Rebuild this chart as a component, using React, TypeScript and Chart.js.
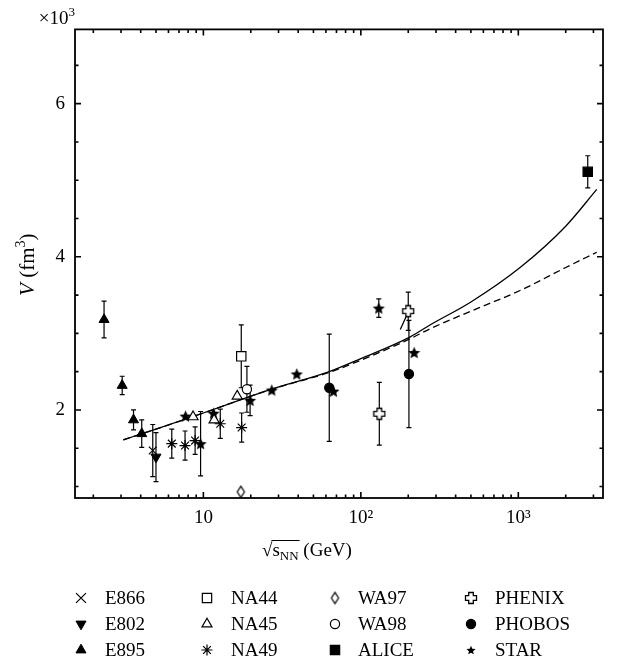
import React, { useEffect, useRef } from 'react';
import { Chart, registerables } from 'chart.js';
import { drawPoint } from 'chart.js/helpers';

Chart.register(...registerables);

// ---------------- data ----------------
const e866X = [4.77];
const e866Y = [1.47];
const e866Err = [0.34];

const e802X = [5.0];
const e802Y = [1.385];
const e802Err = [0.32];

const e895X = [2.34, 3.05, 3.6, 4.06];
const e895Y = [3.18, 2.32, 1.87, 1.69];
const e895Err = [0.24, 0.12, 0.13, 0.18];

const na44X = [17.4];
const na44Y = [2.7];
const na44Err = [0.41];

const na45X = [8.6, 11.7, 16.4];
const na45Y = [1.91, 1.87, 2.18];
const na45Err = [0, 0, 0];

const na49X = [6.3, 7.65, 8.86, 12.8, 17.5];
const na49Y = [1.56, 1.535, 1.6, 1.82, 1.77];
const na49Err = [0.19, 0.19, 0.18, 0.19, 0.19];

const wa97X = [17.3];
const wa97Y = [0.93];
const wa97Err = [0];

const wa98X = [18.9];
const wa98Y = [2.27];
const wa98Err = [0.3];

const aliceX = [2760];
const aliceY = [5.11];
const aliceErr = [0.21];

const phenixX = [131, 200];
const phenixY = [1.95, 3.29];
const phenixErr = [0.41, 0.25];

const phobosX = [63, 202];
const phobosY = [2.29, 2.47];
const phobosErr = [0.7, 0.7];

const starX = [7.7, 9.6, 11.6, 19.8, 27.2, 39.2, 67, 130, 218];
const starY = [1.92, 1.56, 1.957, 2.125, 2.26, 2.47, 2.245, 3.33, 2.75];
const starErr = [0, 0.42, 0, 0.2, 0, 0, 0, 0.12, 0];

const solidX = [3.1, 5, 10, 20, 27, 63, 100, 206, 275, 500, 1026, 2000, 3150];
const solidY = [1.61, 1.75, 1.96, 2.18, 2.27, 2.5, 2.67, 2.955, 3.11, 3.41, 3.86, 4.4, 4.88];

const dashedX = [3.1, 5, 10, 20, 27, 63, 100, 206, 275, 500, 1026, 2000, 3150];
const dashedY = [1.61, 1.75, 1.96, 2.18, 2.27, 2.49, 2.65, 2.93, 3.06, 3.29, 3.56, 3.86, 4.06];

const shortFitX = [178, 198];
const shortFitY = [3.05, 3.26];

const xMajorTicks = [10, 100, 1000];
const xTickLabels = ['10', '10\u00B2', '10\u00B3'];
const xMinorTicks = [2, 3, 4, 5, 6, 7, 8, 9, 20, 30, 40, 50, 60, 70, 80, 90, 200, 300, 400, 500, 600, 700, 800, 900, 2000, 3000];
const yMajorTicks = [2, 4, 6];
const yTickLabels = ['2', '4', '6'];
const yMinorTicks = [1, 1.5, 2.5, 3, 3.5, 4.5, 5, 5.5, 6.5];

const legendColumns = [
  ['E866', 'E802', 'E895'],
  ['NA44', 'NA45', 'NA49'],
  ['WA97', 'WA98', 'ALICE'],
  ['PHENIX', 'PHOBOS', 'STAR'],
];

const X_MIN = 1.53;
const X_MAX = 3450;
const Y_MIN = 0.85;
const Y_MAX = 6.97;

const FONT = '"Liberation Serif", "Times New Roman", serif';

// ---------------- marker images ----------------
function makeCanvas(w: number, h: number, draw: (g: CanvasRenderingContext2D) => void) {
  const c = document.createElement('canvas');
  c.width = w;
  c.height = h;
  const g = c.getContext('2d') as CanvasRenderingContext2D;
  draw(g);
  return c;
}

function starImage(R: number) {
  const s = Math.ceil(R * 2 + 2);
  return makeCanvas(s, s, (g) => {
    g.fillStyle = '#000';
    g.beginPath();
    for (let i = 0; i < 10; i++) {
      const r = i % 2 === 0 ? R : R * 0.45;
      const a = -Math.PI / 2 + (i * Math.PI) / 5;
      const px = s / 2 + r * Math.cos(a);
      const py = s / 2 + R * 0.1 + r * Math.sin(a);
      if (i === 0) g.moveTo(px, py);
      else g.lineTo(px, py);
    }
    g.closePath();
    g.fill();
  });
}

function openCrossImage(h: number, a: number) {
  const s = Math.ceil(h * 2 + 3);
  return makeCanvas(s, s, (g) => {
    const c = s / 2;
    const pts = [
      [c - a, c - h], [c + a, c - h], [c + a, c - a], [c + h, c - a], [c + h, c + a], [c + a, c + a],
      [c + a, c + h], [c - a, c + h], [c - a, c + a], [c - h, c + a], [c - h, c - a], [c - a, c - a],
    ];
    g.beginPath();
    pts.forEach((p, i) => (i ? g.lineTo(p[0], p[1]) : g.moveTo(p[0], p[1])));
    g.closePath();
    g.fillStyle = '#fff';
    g.fill();
    g.strokeStyle = '#000';
    g.lineWidth = 1.3;
    g.stroke();
  });
}

function diamondImage(hw: number, hh: number) {
  const w = Math.ceil(hw * 2 + 3);
  const h = Math.ceil(hh * 2 + 3);
  return makeCanvas(w, h, (g) => {
    const cx = w / 2;
    const cy = h / 2;
    g.beginPath();
    g.moveTo(cx, cy - hh);
    g.lineTo(cx + hw, cy);
    g.lineTo(cx, cy + hh);
    g.lineTo(cx - hw, cy);
    g.closePath();
    g.fillStyle = '#fff';
    g.fill();
    g.strokeStyle = '#000';
    g.lineWidth = 1.2;
    g.stroke();
  });
}

// ---------------- plugins ----------------
const errorBarPlugin = {
  id: 'errorBars',
  beforeDatasetsDraw(chart: any) {
    const { ctx } = chart;
    const xs = chart.scales.x;
    const ys = chart.scales.y;
    ctx.save();
    ctx.strokeStyle = '#000';
    ctx.lineWidth = 1.2;
    chart.data.datasets.forEach((ds: any) => {
      if (!ds.errors) return;
      ds.data.forEach((p: any, i: number) => {
        const e = ds.errors[i];
        if (!e) return;
        const px = xs.getPixelForValue(p.x);
        const y1 = ys.getPixelForValue(p.y - e);
        const y2 = ys.getPixelForValue(p.y + e);
        ctx.beginPath();
        ctx.moveTo(px, y1);
        ctx.lineTo(px, y2);
        ctx.moveTo(px - 2.5, y1);
        ctx.lineTo(px + 2.5, y1);
        ctx.moveTo(px - 2.5, y2);
        ctx.lineTo(px + 2.5, y2);
        ctx.stroke();
      });
    });
    ctx.restore();
  },
};

const framePlugin = {
  id: 'frame',
  afterDraw(chart: any) {
    const { ctx, chartArea: a } = chart;
    const xs = chart.scales.x;
    const ys = chart.scales.y;
    ctx.save();
    ctx.strokeStyle = '#000';
    ctx.lineWidth = 1.6;
    ctx.beginPath();
    xMajorTicks.forEach((v) => {
      const p = xs.getPixelForValue(v);
      ctx.moveTo(p, a.bottom);
      ctx.lineTo(p, a.bottom - 6);
      ctx.moveTo(p, a.top);
      ctx.lineTo(p, a.top + 6);
    });
    xMinorTicks.forEach((v) => {
      const p = xs.getPixelForValue(v);
      if (p <= a.left || p >= a.right) return;
      ctx.moveTo(p, a.bottom);
      ctx.lineTo(p, a.bottom - 3.5);
      ctx.moveTo(p, a.top);
      ctx.lineTo(p, a.top + 3.5);
    });
    yMajorTicks.forEach((v) => {
      const p = ys.getPixelForValue(v);
      ctx.moveTo(a.left, p);
      ctx.lineTo(a.left + 6, p);
      ctx.moveTo(a.right, p);
      ctx.lineTo(a.right - 6, p);
    });
    yMinorTicks.forEach((v) => {
      const p = ys.getPixelForValue(v);
      ctx.moveTo(a.left, p);
      ctx.lineTo(a.left + 3.5, p);
      ctx.moveTo(a.right, p);
      ctx.lineTo(a.right - 3.5, p);
    });
    ctx.stroke();
    ctx.lineWidth = 1.8;
    ctx.strokeRect(a.left, a.top, a.right - a.left, a.bottom - a.top);
    ctx.restore();
  },
};

const textPlugin = {
  id: 'texts',
  afterDraw(chart: any) {
    const { ctx, chartArea: a } = chart;
    ctx.save();
    ctx.fillStyle = '#000';
    ctx.strokeStyle = '#000';
    ctx.textBaseline = 'alphabetic';

    // x10^3 multiplier
    ctx.textAlign = 'left';
    ctx.font = `13px ${FONT}`;
    const supW = ctx.measureText('3').width;
    ctx.font = `19px ${FONT}`;
    const mainW = ctx.measureText('\u00D710').width;
    const mx = a.left - mainW - supW;
    ctx.fillText('\u00D710', mx, a.top - 5);
    ctx.font = `13px ${FONT}`;
    ctx.fillText('3', mx + mainW, a.top - 13);

    // y title: V (fm^3)
    ctx.save();
    ctx.translate(19, (a.top + a.bottom) / 2 + 1);
    ctx.rotate(-Math.PI / 2);
    ctx.font = `italic 21px ${FONT}`;
    const wV = ctx.measureText('V').width;
    ctx.font = `21px ${FONT}`;
    const wA = ctx.measureText(' (fm').width;
    const wC = ctx.measureText(')').width;
    ctx.font = `14px ${FONT}`;
    const w3 = ctx.measureText('3').width;
    let cx = -(wV + wA + w3 + wC) / 2;
    const bl = 7;
    ctx.font = `italic 21px ${FONT}`;
    ctx.fillText('V', cx, bl);
    cx += wV;
    ctx.font = `21px ${FONT}`;
    ctx.fillText(' (fm', cx, bl);
    cx += wA;
    ctx.font = `14px ${FONT}`;
    ctx.fillText('3', cx, bl - 9);
    cx += w3;
    ctx.font = `21px ${FONT}`;
    ctx.fillText(')', cx, bl);
    ctx.restore();

    // x title: sqrt(s_NN) (GeV)
    const tx = 254;
    const tb = a.bottom + 58;
    ctx.font = `19px ${FONT}`;
    const wr = ctx.measureText('\u221A').width;
    ctx.fillText('\u221A', tx, tb);
    let sx = tx + wr;
    ctx.fillText('s', sx, tb);
    sx += ctx.measureText('s').width;
    ctx.font = `13px ${FONT}`;
    ctx.fillText('NN', sx, tb + 4);
    sx += ctx.measureText('NN').width;
    ctx.lineWidth = 1;
    ctx.beginPath();
    ctx.moveTo(tx + wr - 1, tb - 15.5);
    ctx.lineTo(sx + 1, tb - 15.5);
    ctx.stroke();
    ctx.font = `19px ${FONT}`;
    ctx.fillText(' (GeV)', sx, tb);

    // legend grid
    const colMarker = [73, 199, 327, 463];
    const colText = [97, 223, 350, 487];
    const rows = [590, 616, 642];
    ctx.textBaseline = 'middle';
    ctx.font = `19px ${FONT}`;
    legendColumns.forEach((col, ci) => {
      col.forEach((name, ri) => {
        const ds: any = chart.data.datasets.find((d: any) => d.label === name);
        if (!ds) return;
        const y = rows[ri];
        ctx.save();
        ctx.fillStyle = ds.pointBackgroundColor;
        ctx.strokeStyle = ds.pointBorderColor;
        ctx.lineWidth = ds.pointBorderWidth;
        drawPoint(ctx, {
          pointStyle: ds.legendStyle || ds.pointStyle,
          radius: ds.legendRadius || ds.pointRadius,
          rotation: ds.pointRotation || 0,
          borderWidth: ds.pointBorderWidth,
        } as any, colMarker[ci], y);
        ctx.restore();
        ctx.fillStyle = '#000';
        ctx.fillText(name, colText[ci], y + 1);
      });
    });
    ctx.restore();
  },
};

function pts(xs: number[], ys: number[]) {
  return xs.map((x, i) => ({ x, y: ys[i] }));
}

export default function App() {
  const ref = useRef<HTMLCanvasElement | null>(null);

  useEffect(() => {
    if (!ref.current) return;
    const starImg = starImage(6.4);
    const starLegend = starImage(4.8);
    const crossImg = openCrossImage(5.5, 2.3);
    const diamondImg = diamondImage(3.6, 5.6);

    const marker = (label: string, xs: number[], ys: number[], errs: number[], style: any) => ({
      label,
      data: pts(xs, ys),
      errors: errs,
      showLine: false,
      pointBorderColor: '#000',
      pointBackgroundColor: '#000',
      pointBorderWidth: 1.2,
      order: 1,
      ...style,
    });

    const datasets: any[] = [
      {
        label: 'model-solid', data: pts(solidX, solidY), showLine: true, pointRadius: 0,
        borderColor: '#000', borderWidth: 1.3, cubicInterpolationMode: 'monotone', order: 10,
      },
      {
        label: 'model-dashed', data: pts(dashedX, dashedY), showLine: true, pointRadius: 0,
        borderColor: '#000', borderWidth: 1.3, borderDash: [7, 4], cubicInterpolationMode: 'monotone', order: 10,
      },
      {
        label: 'fit-short', data: pts(shortFitX, shortFitY), showLine: true, pointRadius: 0,
        borderColor: '#000', borderWidth: 1.3, order: 10,
      },
      marker('E866', e866X, e866Y, e866Err, { pointStyle: 'crossRot', pointRadius: 5.5, legendRadius: 7 }),
      marker('E802', e802X, e802Y, e802Err, { pointStyle: 'triangle', pointRotation: 180, pointRadius: 5.8, pointBorderWidth: 1 }),
      marker('E895', e895X, e895Y, e895Err, { pointStyle: 'triangle', pointRadius: 5.8, pointBorderWidth: 1 }),
      marker('NA44', na44X, na44Y, na44Err, { pointStyle: 'rect', pointRadius: 6.6, pointBackgroundColor: '#fff' }),
      marker('NA45', na45X, na45Y, na45Err, { pointStyle: 'triangle', pointRadius: 5.8, pointBackgroundColor: '#fff' }),
      marker('NA49', na49X, na49Y, na49Err, { pointStyle: 'star', pointRadius: 5.5, pointBorderWidth: 1.2 }),
      marker('WA97', wa97X, wa97Y, wa97Err, { pointStyle: diamondImg, pointRadius: 5, pointBackgroundColor: '#fff' }),
      marker('WA98', wa98X, wa98Y, wa98Err, { pointStyle: 'circle', pointRadius: 4.6, pointBackgroundColor: '#fff' }),
      marker('ALICE', aliceX, aliceY, aliceErr, { pointStyle: 'rect', pointRadius: 6.6 }),
      marker('PHENIX', phenixX, phenixY, phenixErr, { pointStyle: crossImg, pointRadius: 5, pointBackgroundColor: '#fff' }),
      marker('PHOBOS', phobosX, phobosY, phobosErr, { pointStyle: 'circle', pointRadius: 4.6 }),
      marker('STAR', starX, starY, starErr, { pointStyle: starImg, pointRadius: 5, legendStyle: starLegend }),
    ];

    const chart = new Chart(ref.current, {
      type: 'scatter',
      data: { datasets },
      options: {
        animation: false,
        responsive: false,
        maintainAspectRatio: false,
        events: [],
        layout: { padding: { left: 0, right: 8, top: 17, bottom: 120 } },
        plugins: { legend: { display: false }, tooltip: { enabled: false } },
        scales: {
          x: {
            type: 'logarithmic',
            min: X_MIN,
            max: X_MAX,
            grid: { display: false, drawTicks: false },
            border: { display: false },
            ticks: {
              color: '#000',
              font: { family: FONT, size: 19 },
              padding: 9,
              autoSkip: false,
              maxRotation: 0,
              callback: (v: any) => {
                const i = xMajorTicks.indexOf(Number(v));
                return i >= 0 ? xTickLabels[i] : '';
              },
            },
            afterBuildTicks: (s: any) => {
              s.ticks = xMajorTicks.map((v) => ({ value: v }));
            },
            afterFit: (s: any) => {
              s.height = 40;
            },
          } as any,
          y: {
            type: 'linear',
            min: Y_MIN,
            max: Y_MAX,
            grid: { display: false, drawTicks: false },
            border: { display: false },
            ticks: {
              color: '#000',
              font: { family: FONT, size: 19 },
              padding: 10,
              callback: (v: any) => {
                const i = yMajorTicks.indexOf(Number(v));
                return i >= 0 ? yTickLabels[i] : '';
              },
            },
            afterBuildTicks: (s: any) => {
              s.ticks = yMajorTicks.map((v) => ({ value: v }));
            },
            afterFit: (s: any) => {
              s.width = 67;
            },
          } as any,
        },
      },
      plugins: [errorBarPlugin, framePlugin, textPlugin],
    });
    return () => chart.destroy();
  }, []);

  return (
    <div style={{ width: 603, height: 650 }}>
      <canvas ref={ref} width={603} height={650} style={{ display: 'block' }} />
    </div>
  );
}
